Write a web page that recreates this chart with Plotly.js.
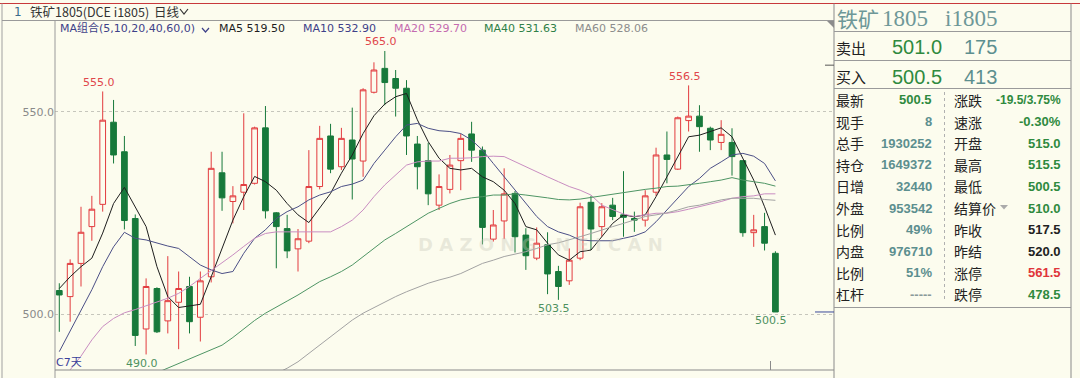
<!DOCTYPE html>
<html><head><meta charset="utf-8">
<script src="https://cdn.plot.ly/plotly-3.0.1.min.js"></script>
<style>html,body{margin:0;padding:0;background:#FCFCEE;}#chart{width:1080px;height:378px;}</style>
</head><body><div id="chart"></div>
<script>
// ---------------- data ----------------
const dayIndex = [1,2,3,4,5,6,7,8,9,10,11,12,13,14,15,16,17,18,19,20,21,22,23,24,25,26,27,28,29,30,31,32,33,34,35,36,37,38,39,40,41,42,43,44,45,46,47,48,49,50,51,52,53,54,55,56,57,58,59,60,61,62,63,64,65,66,67];
const openP = [505.8,504.3,512.5,521.6,527.1,547.4,540.1,523.6,496.3,506.3,
498.3,502.9,506.8,499.2,509.2,534.9,527.8,530.1,532.3,546.0,
525.0,521.1,516.1,518.0,531.5,544.0,536.4,543.0,537.8,554.8,
560.7,558.2,555.8,542.0,537.9,526.9,530.8,537.9,544.5,540.5,
518.5,523.0,529.8,519.5,513.8,517.1,510.5,508.2,513.8,527.6,
521.6,526.9,524.5,523.6,523.2,530.1,539.3,535.8,547.8,548.9,
545.9,542.4,542.4,537.9,520.1,521.6,515.0];
const highP = [507.6,513.5,526.5,529.2,555.0,552.9,544.0,524.6,508.8,506.6,
514.3,510.5,509.2,510.5,540.1,540.1,531.6,549.6,546.3,551.4,
525.2,524.5,521.0,540.5,546.5,547.0,546.0,551.0,555.8,562.2,
565.0,560.3,557.8,544.0,542.3,534.5,539.3,544.5,547.5,541.4,
525.7,536.0,530.4,521.2,521.4,520.2,511.9,516.2,527.5,529.2,
527.4,528.7,535.3,525.3,530.6,541.1,545.1,548.8,556.5,551.6,
546.3,547.9,545.9,537.9,524.5,525.0,515.5];
const lowP = [495.6,498.1,506.8,518.1,525.3,537.2,520.9,492.1,490.0,495.3,
495.2,491.3,495.2,493.2,507.8,525.5,522.4,525.7,532.0,523.6,
511.3,513.8,510.5,517.5,530.8,534.8,535.6,528.3,533.9,554.5,
551.6,548.8,539.3,530.8,526.9,525.7,529.8,530.6,537.6,517.2,
517.9,518.5,515.2,510.9,513.3,504.9,503.5,507.2,513.3,515.8,
519.1,523.2,519.1,520.3,521.6,529.2,532.3,535.6,545.1,540.1,
540.5,540.5,534.2,519.1,516.6,515.7,500.5];
const closeP = [504.7,512.5,520.2,525.9,547.9,539.3,523.1,494.7,506.8,495.6,
503.3,506.3,498.1,508.2,536.0,528.7,529.2,532.0,546.0,525.5,
521.6,515.6,518.6,531.5,543.4,535.8,543.4,538.3,555.4,560.3,
557.2,555.8,544.0,536.4,529.7,531.5,536.8,543.4,540.5,521.4,
522.0,529.7,519.1,514.4,517.5,509.9,506.8,513.3,526.5,521.0,
526.5,524.1,523.9,523.2,529.2,539.3,538.2,548.5,548.9,546.3,
543.0,544.4,538.9,520.1,520.8,517.5,500.5];

const ma5 = [506.3,509.2,511.7,513.8,520.0,527.3,531.3,526.5,521.6,511.7,
504.3,501.6,502.0,502.4,509.2,516.2,523.2,529.0,534.0,532.7,
530.6,527.3,524.5,522.6,526.1,529.8,534.8,539.3,544.6,549.0,
551.9,553.7,554.5,548.0,542.6,538.5,536.0,535.6,536.0,533.9,
532.7,530.6,527.3,521.6,520.8,517.5,514.6,513.3,515.4,515.8,
519.1,522.4,524.5,524.0,524.5,529.0,533.9,538.9,543.8,544.2,
545.1,546.0,543.8,538.5,533.1,526.5,519.5];
const ma10 = [490.7,495.8,500.8,506.0,511.7,516.6,520.2,518.7,518.3,517.5,
516.8,516.2,514.2,512.1,510.9,510.0,510.5,515.0,518.7,520.8,
523.6,525.3,526.5,528.2,529.4,530.2,531.5,532.1,533.1,537.2,
540.5,543.8,546.7,547.1,545.9,545.3,545.1,544.6,543.0,540.5,
537.2,533.9,530.6,527.3,524.1,521.6,520.3,519.5,518.3,518.1,
518.1,518.1,518.7,519.3,520.3,522.8,525.7,528.6,531.5,533.5,
536.0,537.6,539.3,539.7,539.0,537.2,532.9];
const ma20 = [null,486.2,489.6,493.6,496.9,498.9,500.3,501.1,502.0,503.0,
503.9,505.1,506.8,508.8,510.7,512.5,514.6,516.7,518.7,519.9,
520.3,520.3,520.3,520.3,520.3,520.3,521.6,523.2,525.7,529.0,
531.9,534.3,536.8,537.6,537.8,537.8,538.5,538.5,538.6,538.9,
539.0,538.9,537.6,536.4,535.2,533.9,532.7,531.5,530.6,529.4,
526.9,525.7,524.7,524.1,524.5,524.9,524.9,525.3,525.9,526.5,
527.2,527.8,528.6,529.0,529.2,529.7,529.7];
const ma40 = [null,null,null,null,null,null,null,null,null,485.5,
486.6,487.8,488.9,490.0,491.1,492.3,494.2,496.3,498.4,500.2,
501.8,503.2,504.7,506.3,508.0,509.2,510.5,512.1,514.2,516.2,
518.3,519.9,521.6,523.2,524.9,526.1,527.3,528.2,528.7,529.0,
529.4,529.4,529.7,529.4,529.1,528.7,528.3,528.2,528.4,528.8,
529.2,529.6,530.1,530.5,530.8,531.1,531.5,531.6,531.9,532.3,
532.7,533.1,533.7,533.1,532.7,532.3,531.6];
const ma60 = [null,null,null,null,null,null,null,null,null,null,
null,null,null,null,null,null,null,null,null,null,
485.3,486.6,488.2,490.3,492.3,494.4,496.6,498.5,500.2,501.6,
503.0,504.3,505.5,506.6,507.6,508.4,509.1,510.0,511.3,512.5,
513.3,514.2,514.8,515.4,516.2,517.1,517.6,518.3,519.1,519.9,
520.8,521.6,522.4,523.2,524.1,524.5,525.0,525.7,526.5,526.9,
527.5,528.2,528.6,528.6,528.6,528.3,528.1];

const yTicks = [500, 550];
const markHighDays = [5, 31, 59];
const markLowDays = [9, 47, 67];
const maNames = ['MA5','MA10','MA20','MA40','MA60'];
const maLast = ['519.50','532.90','529.70','531.63','528.06'];
const limitUp = 561.5;

const headerTitle = '铁矿1805(DCE i1805)';
const periodLabel = '日线';
const maGroupLabel = 'MA组合(5,10,20,40,60,0)';
const panelName = ['铁矿','1805','i1805'];
const sellRow = ['卖出','501.0','175'];
const buyRow = ['买入','500.5','413'];
const leftLabels = ['最新','现手','总手','持仓','日增','外盘','比例','内盘','比例','杠杆'];
const leftValues = ['500.5','8','1930252','1649372','32440','953542','49%','976710','51%','-----'];
const rightLabels = ['涨跌','速涨','开盘','最高','最低','结算价','昨收','昨结','涨停','跌停'];
const rightValues = ['-19.5/3.75%','-0.30%','515.0','515.5','500.5','510.0','517.5','520.0','561.5','478.5'];

// ---------------- styles ----------------
const BG = '#FCFCEE';
const RED = '#E23B3E', GREEN = '#17793B';
const maColors = ['#1E1E1E','#4B4F86','#C98DC1','#4E9564','#A3A3A3'];
const maTextColors = ['#1E1E1E','#3E4189','#C46BB0','#2F8048','#8C8C8C'];
const TEAL = '#5C8F8F', VGREEN = '#2F8A3E';
const leftValColors = [VGREEN,TEAL,TEAL,TEAL,TEAL,TEAL,TEAL,TEAL,TEAL,'#8A9A9A'];
const rightValColors = [VGREEN,VGREEN,VGREEN,VGREEN,VGREEN,VGREEN,'#222','#222','#E0353A',VGREEN];
const SANS = 'DejaVu Sans, Noto Sans CJK SC, sans-serif';
const CJK = 'Noto Sans CJK SC, sans-serif';
const NUM = 'Liberation Sans, Arial, sans-serif';

const W=1080,H=378,L=55,R=834,T=20,B=370;
const fx = px => (px-L)/(R-L);
const fy = py => (B-py)/(B-T);

function txt(text, px, py, size, color, anchor, family, weight) {
  const f = {family:family||SANS, size:size, color:color};
  if (weight) f.weight = weight;
  return {xref:'paper', yref:'paper', x:fx(px), y:fy(py), text:text,
    showarrow:false, xanchor:anchor||'left', yanchor:'middle', borderpad:0, font:f};
}
function line(x1,y1,x2,y2,color,width,dash){
  return {type:'line', xref:'paper', yref:'paper', x0:fx(x1), y0:fy(y1), x1:fx(x2), y1:fy(y2),
    line:{color:color, width:width||1, dash:dash||'solid'}, layer:'above'};
}
function pathPx(pts, color, fill){
  const d = pts.map((p,i)=>(i?'L':'M')+fx(p[0])+','+fy(p[1])).join(' ') + (fill?' Z':'');
  return {type:'path', xref:'paper', yref:'paper', path:d,
    line:{color:color, width:fill?0:1.2}, fillcolor: fill?color:'rgba(0,0,0,0)', layer:'above'};
}

// ---------------- traces ----------------
const traces = [{
  type:'candlestick', x:dayIndex, open:openP, high:highP, low:lowP, close:closeP,
  increasing:{line:{color:RED, width:1}, fillcolor:BG},
  decreasing:{line:{color:GREEN, width:1}, fillcolor:GREEN},
  whiskerwidth:0, hoverinfo:'skip', showlegend:false
}];
[ma5,ma10,ma20,ma40,ma60].forEach((arr,k)=>{
  traces.push({type:'scatter', mode:'lines', x:dayIndex, y:arr,
    line:{color:maColors[k], width:1}, hoverinfo:'skip', showlegend:false, connectgaps:false});
});

// ---------------- annotations ----------------
const ann = [];
ann.push(txt('<b>D A Z O N G   N E I C A N</b>', 540, 245, 18, 'rgba(200,200,185,0.38)', 'center', 'DejaVu Sans'));
ann.push(txt('1', 13, 12, 12, '#3B6C8C', 'left', SANS));
ann.push(txt(headerTitle, 29, 12, 12.5, '#333', 'left', CJK));
ann.push(txt(periodLabel, 153, 12, 12.5, '#333', 'left', CJK));
ann.push(txt(maGroupLabel, 59, 28, 11, '#3E4189', 'left', SANS));
const maX = [218, 302, 393, 483, 574];
maNames.forEach((n,k)=>ann.push(txt(n+' '+maLast[k], maX[k], 28, 11, maTextColors[k], 'left', SANS)));
markHighDays.forEach(d=>ann.push({xref:'x', yref:'y', x:d, y:highP[d-1], text:highP[d-1].toFixed(1),
  showarrow:false, xanchor:'center', yanchor:'middle', yshift:9, xshift:-4,
  font:{family:SANS, size:11, color:'#E0474C'}}));
markLowDays.forEach(d=>ann.push({xref:'x', yref:'y', x:d, y:lowP[d-1], text:lowP[d-1].toFixed(1),
  showarrow:false, xanchor:'center', yanchor:'middle', yshift:-9, xshift:-4,
  font:{family:SANS, size:11, color:'#4E9160'}}));
ann.push(txt('C7天', 55, 362, 11, '#3A3F9A', 'left', SANS));

// right panel
ann.push(txt(panelName[0], 836, 18, 21, '#6E9898', 'left', CJK));
ann.push(txt(panelName[1], 881, 19, 23, '#6E9898', 'left', 'Liberation Serif, serif'));
ann.push(txt(panelName[2], 944, 19, 23, '#6E9898', 'left', 'Liberation Serif, serif'));
[[sellRow,47],[buyRow,77]].forEach(([row,py])=>{
  ann.push(txt(row[0], 835, py, 15, '#222', 'left', CJK));
  ann.push(txt(row[1], 943, py, 20, VGREEN, 'right', 'Liberation Sans, sans-serif'));
  ann.push(txt(row[2], 998, py, 20, TEAL, 'right', 'Liberation Sans, sans-serif'));
});
leftLabels.forEach((lab,k)=>{
  const py = 100 + k*21.6;
  ann.push(txt(lab, 835, py, 14, '#222', 'left', CJK));
  ann.push(txt(leftValues[k], 933, py, 13, leftValColors[k], 'right', NUM, 700));
  ann.push(txt(rightLabels[k], 953, py, 14, '#222', 'left', CJK));
  ann.push(txt(rightValues[k], 1062, py, k===0?12:13, rightValColors[k], 'right', NUM, 700));
});

// ---------------- shapes ----------------
const shapes = [
  line(0,3.5,W,3.5,'#C8393B',1),
  line(2,3.5,2,H,'#A0A0A0',1),
  line(2,20.5,R,20.5,'#9A9A9A',1),
  line(L,20.5,L,H,'#9A9A9A',1),
  line(L,B,R,B,'#8A8A8A',1),
  line(R,3.5,R,H,'#8A8A8A',1),
  line(1071,3.5,1071,H,'#8A8A8A',1),
  line(R,31.5,1071,31.5,'#9A9A9A',1),
  line(R,60.5,1071,60.5,'#9A9A9A',1),
  line(R,88.5,1071,88.5,'#9A9A9A',1),
  line(R,307.5,1071,307.5,'#9A9A9A',1),
  line(944.5,92,944.5,302,'#B0B0B0',1,'dot'),
  line(770.5,361,770.5,370,'#8A8A8A',1),
  pathPx([[827,21],[834,21],[834,28]], '#8C8C8C', true),
  pathPx([[180,9],[184,14],[188,9]], '#333', false),
  pathPx([[202,28],[205.5,32],[209,28]], '#3E4189', false),
  pathPx([[1000,205],[1008,205],[1004,209.5]], '#AAAAAA', true),
  {type:'line', xref:'paper', yref:'y', x0:fx(825), x1:fx(834), y0:limitUp, y1:limitUp, line:{color:'#555',width:1}, layer:'above'},
  {type:'line', xref:'paper', yref:'y', x0:fx(815), x1:fx(834), y0:closeP[closeP.length-1], y1:closeP[closeP.length-1], line:{color:'#3B4A9A',width:1}, layer:'above'}
];

const layout = {
  width:W, height:H, margin:{l:L, r:W-R, t:T, b:H-B, pad:0},
  paper_bgcolor:BG, plot_bgcolor:BG, showlegend:false, boxgap:0.25,
  font:{family:SANS},
  xaxis:{range:[0.604,72.40], showgrid:false, zeroline:false, showticklabels:false, showline:false,
    ticks:'', rangeslider:{visible:false}, fixedrange:true},
  yaxis:{range:[486.16,572.66], tickvals:yTicks, tickformat:'.1f', showgrid:true,
    gridcolor:'#C6C6BC', griddash:'dot', gridwidth:1, zeroline:false, showline:false, ticks:'',
    tickfont:{family:'DejaVu Sans', size:11, color:'#8A8A8A'}, fixedrange:true},
  annotations:ann, shapes:shapes
};
Plotly.newPlot('chart', traces, layout, {staticPlot:true, displayModeBar:false});
</script></body></html>
